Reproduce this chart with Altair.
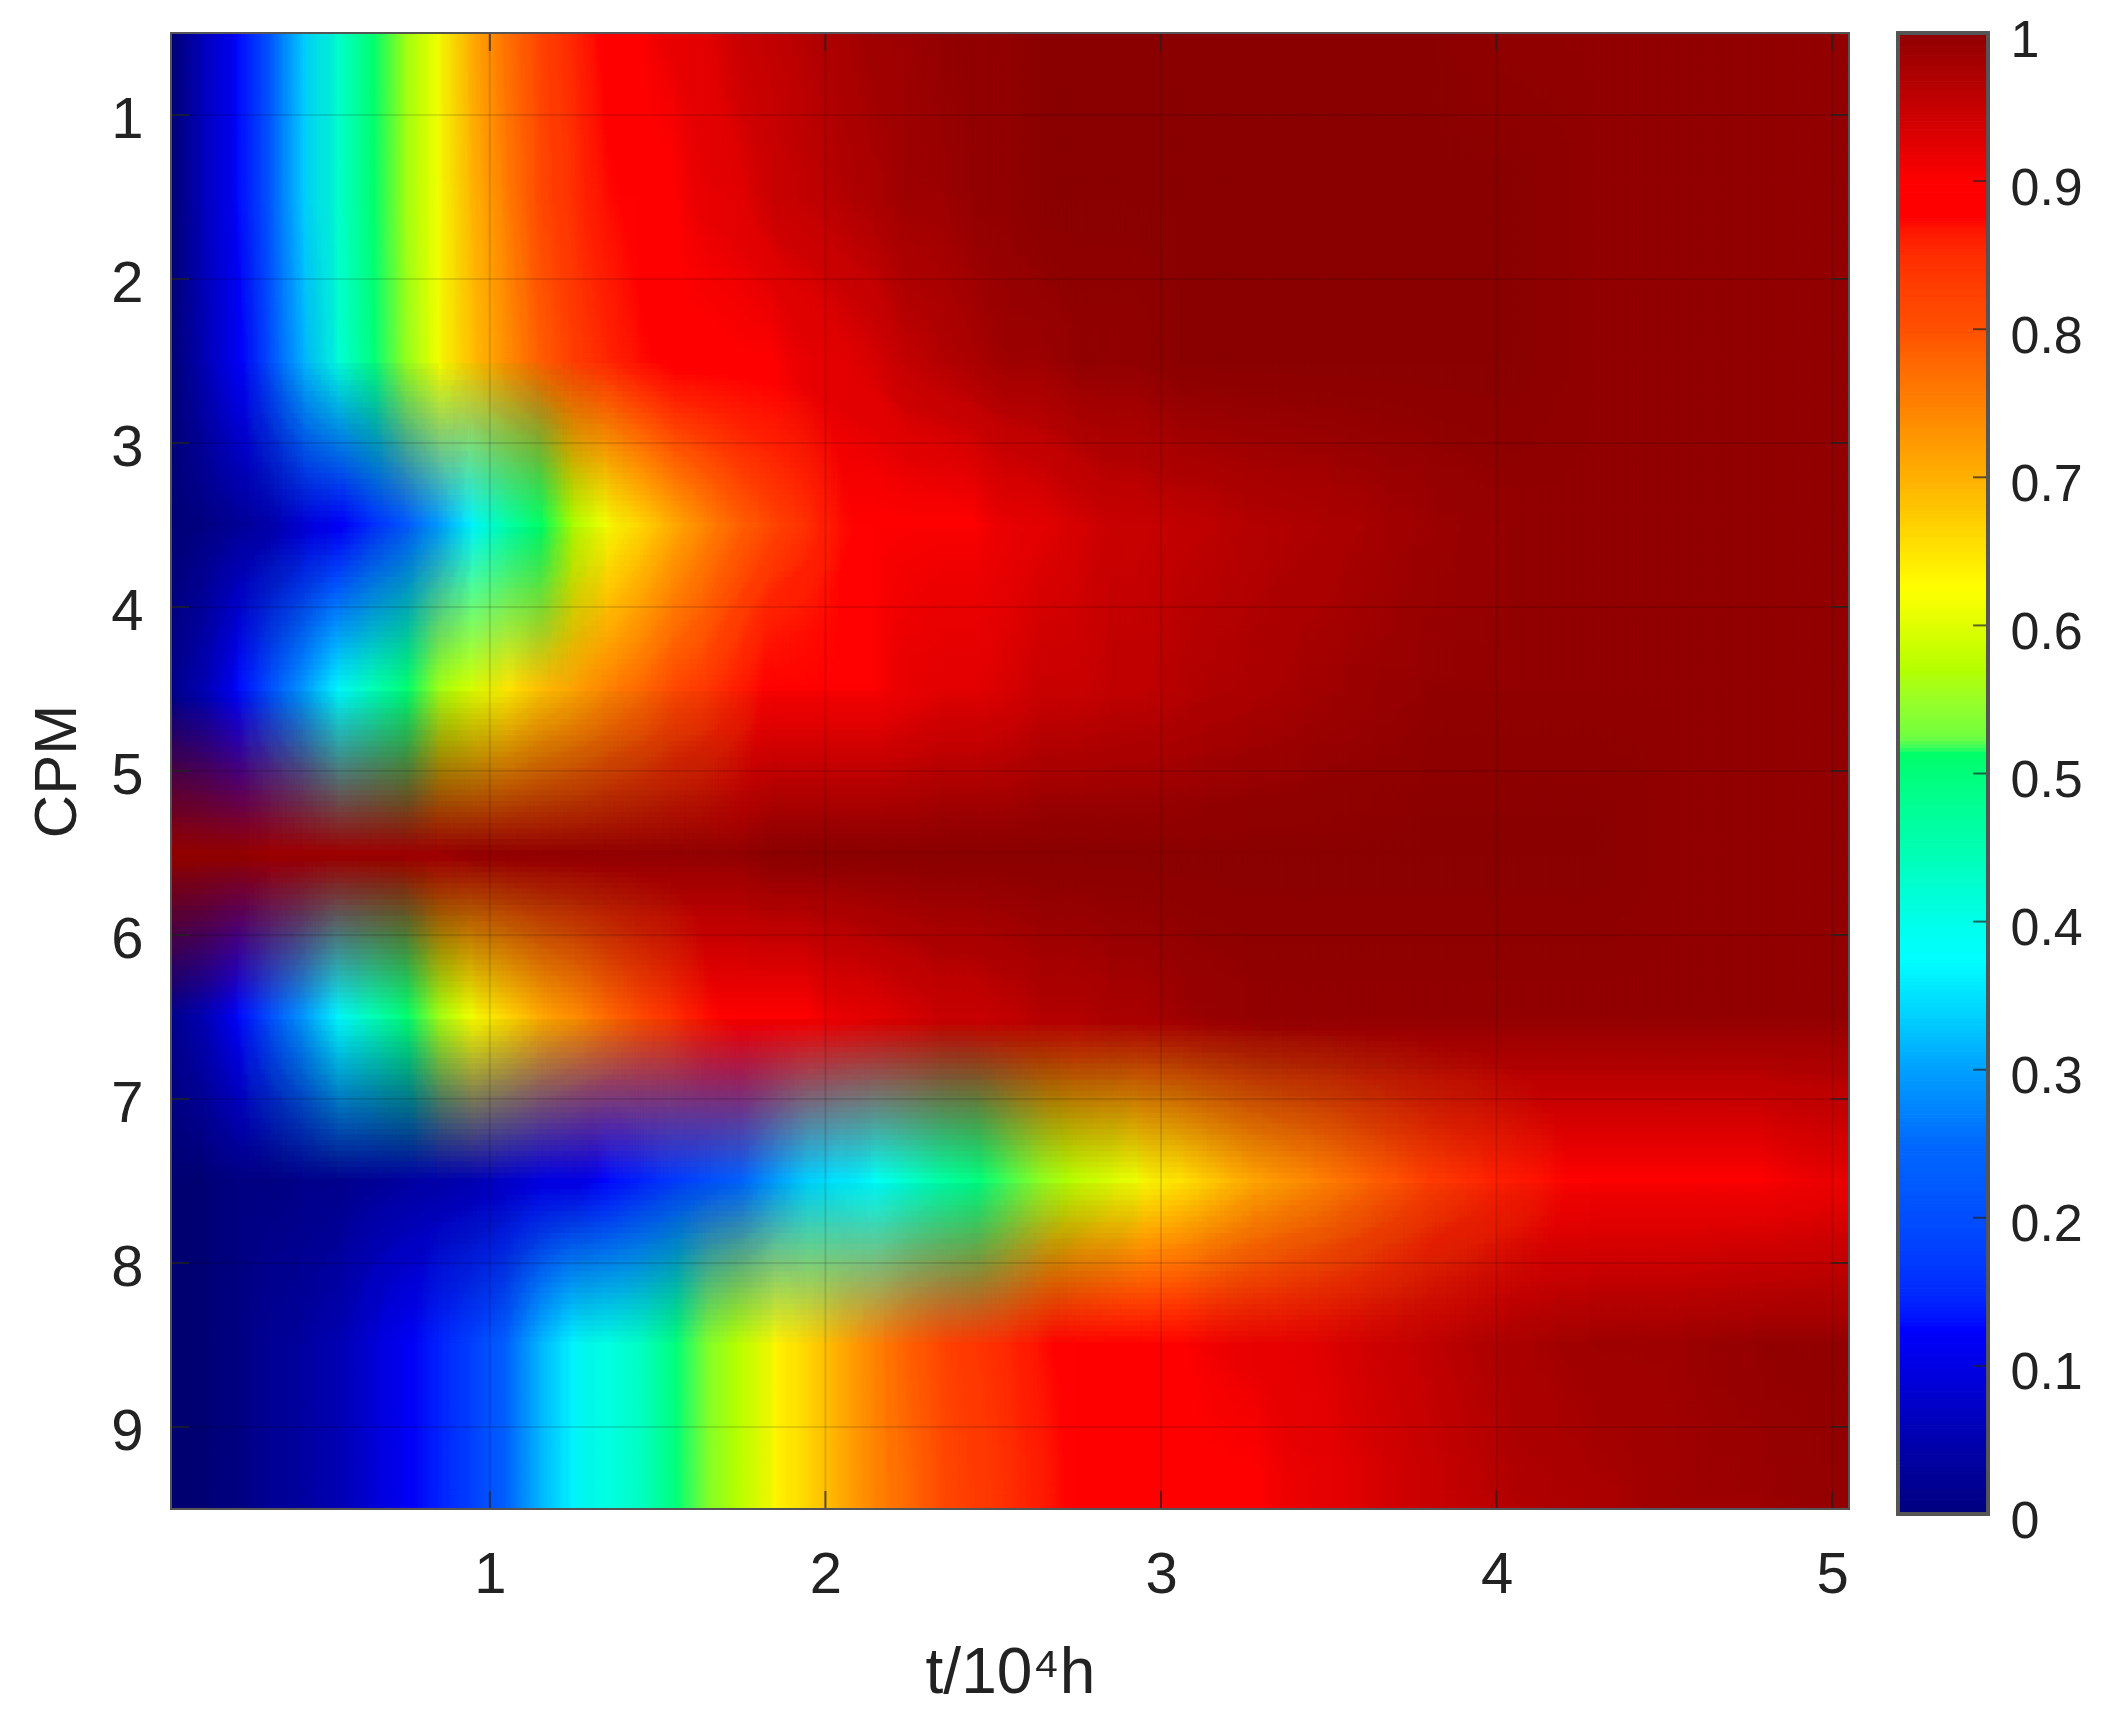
import altair as alt
import pandas as pd

FONT = "Liberation Sans"
W, H = 1678, 1476
BAR_W, BAR_H = 90, 1481
N_LAYERS = 30

# value in percent at each time column, per CPM row
t_nodes = [0.05, 0.15, 0.25, 0.35, 0.45, 0.55, 0.65, 0.75, 0.85, 0.95,
           1.05, 1.15, 1.25, 1.35, 1.45, 1.55, 1.65, 1.75, 1.85, 1.95,
           2.05, 2.15, 2.25, 2.35, 2.45, 2.55, 2.65, 2.75, 2.85, 2.95,
           3.05, 3.30, 3.55, 3.80, 4.05, 4.30, 4.55, 4.80, 5.05]
cpm_nodes = [0.5, 1.5, 2.5, 3.5, 4.5, 5.5, 6.5, 7.5, 8.5, 9.5]

row_05 = [0, 7, 13, 24, 34, 42, 50, 56, 62, 70, 76, 81, 85, 88, 90, 91, 92, 94, 95, 96,
          97, 98, 98, 99, 99, 99, 100, 100, 100, 100, 100, 100, 100, 100, 99, 99, 99, 99, 99]
row_15 = [0, 7, 13, 24, 34, 42, 50, 56, 62, 69, 75, 80, 84, 87, 89, 90, 91, 92, 94, 95,
          96, 97, 98, 98, 99, 99, 100, 100, 100, 100, 100, 100, 100, 100, 100, 99, 99, 99, 99]
row_25 = [0, 6, 12, 22, 32, 41, 49, 55, 62, 68, 73, 78, 82, 85, 87, 88, 88, 89, 90, 91,
          92, 93, 95, 96, 97, 98, 98, 99, 99, 99, 100, 100, 100, 100, 100, 99, 99, 99, 99]
row_35 = [0, 1, 3, 5, 9, 12, 16, 23, 30, 37, 45, 51, 57, 62, 66, 70, 74, 78, 81, 84,
          87, 88, 89, 90, 90, 91, 92, 93, 94, 94, 95, 96, 97, 98, 99, 99, 99, 99, 99]
row_45 = [2, 6, 13, 22, 30, 37, 44, 50, 56, 60, 64, 68, 71, 74, 77, 80, 83, 86, 88, 89,
          90, 90, 91, 92, 92, 93, 94, 94, 95, 95, 96, 97, 98, 99, 99, 99, 99, 99, 99]
row_55 = [99, 99, 99, 98, 98, 98, 98, 98, 98, 99, 99, 99, 99, 99, 99, 99, 99, 99, 100, 100,
          100, 100, 100, 100, 100, 100, 100, 100, 100, 100, 100, 100, 100, 100, 100, 100, 99, 99, 99]
row_65 = [2, 6, 13, 22, 30, 37, 44, 50, 56, 62, 66, 70, 73, 77, 80, 84, 87, 88, 89, 90,
          91, 92, 93, 94, 94, 95, 96, 96, 97, 97, 98, 99, 99, 99, 99, 99, 99, 99, 99]
row_75 = [0, 0, 1, 1, 2, 2, 3, 4, 5, 6, 8, 10, 11, 13, 15, 18, 21, 25, 30, 34,
          36, 38, 42, 46, 49, 52, 55, 58, 60, 62, 65, 71, 76, 82, 86, 88, 89, 90, 91]
row_85 = [0, 0, 1, 3, 4, 6, 9, 12, 15, 19, 25, 32, 37, 40, 43, 49, 54, 58, 63, 66,
          70, 74, 78, 81, 83, 85, 87, 88, 89, 89, 90, 91, 93, 95, 97, 98, 98, 99, 99]
row_95 = [0, 0, 1, 3, 4, 6, 9, 12, 15, 19, 25, 32, 37, 40, 43, 49, 54, 58, 63, 66,
          70, 74, 77, 80, 82, 84, 86, 88, 88, 89, 89, 90, 92, 94, 96, 97, 98, 98, 99]
rows = [row_05, row_15, row_25, row_35, row_45, row_55, row_65, row_75, row_85, row_95]

x_ticks = [1, 2, 3, 4, 5]
y_ticks = [1, 2, 3, 4, 5, 6, 7, 8, 9]
bar_ticks = [0, 0.1, 0.2, 0.3, 0.4, 0.5, 0.6, 0.7, 0.8, 0.9, 1]

# jet-like map with the small jump just above 0.5
cmap_stops = [0, 0.125, 0.25, 0.3, 0.375, 0.45, 0.515, 0.525, 0.57, 0.625, 0.7, 0.75, 0.8, 0.875, 0.9, 1]
cmap_colors = ["#00007f", "#0000ff", "#0068ff", "#00a0ff", "#00ffff", "#00ffb0", "#00ff66", "#70ff40",
               "#b4ff00", "#ffff00", "#ffb000", "#ff8000", "#ff5000", "#ff0000", "#ff0000", "#900000"]
color_scale = alt.Scale(domain=cmap_stops, range=cmap_colors, clamp=True)

x_scale = alt.Scale(domain=[0.05, 5.05], nice=False, zero=False)
y_scale = alt.Scale(domain=[9.5, 0.5], nice=False, zero=False)

x_axis = alt.Axis(values=x_ticks, grid=False, ticks=False, domain=False, labelFont=FONT, labelFontSize=58,
                  labelColor="#222222", labelPadding=37, labelFlush=False, format="d",
                  titleFont=FONT, titleFontSize=64, titleFontWeight="normal", titleColor="#222222", titlePadding=37)
y_axis = alt.Axis(values=y_ticks, grid=False, ticks=False, domain=False, labelFont=FONT, labelFontSize=58,
                  labelColor="#222222", labelPadding=28, labelOffset=5, labelFlush=False, format="d",
                  titleFont=FONT, titleFontSize=60, titleFontWeight="normal", titleColor="#222222", titlePadding=22)
X_TITLE = "t/10⁴h"
Y_TITLE = "CPM"

# cell table: every cell is centred on its column and row
t_edges = [t_nodes[0] - 0.05]
for a, b in zip(t_nodes[:-1], t_nodes[1:]):
    t_edges.append((a + b) / 2)
t_edges.append(t_nodes[-1] + 0.125)
edge_shift = [0.1]
for a, b, c in zip(t_edges[:-2], t_edges[1:-1], t_edges[2:]):
    edge_shift.append((c - a) / 2)
edge_shift.append(0.25)

records = []
for c, row in zip(cpm_nodes, rows):
    for i, v in enumerate(row):
        records.append({"t0": t_edges[i], "t1": t_edges[i + 1], "s0": edge_shift[i], "s1": edge_shift[i + 1],
                        "c0": c - 0.5, "c1": c + 0.5, "v": v / 100})
cells = pd.DataFrame(records)

# the reference is a smoothed image: stack the same cells, slightly shifted,
# with falling opacity so the layers average out
layers = []
for k in range(N_LAYERS):
    dy = (k + 0.5) / N_LAYERS - 0.5
    dx = (k * 0.618) % 1 - 0.5
    kw = {"stroke": alt.Color("v:Q", scale=color_scale, legend=None)} if k == 0 else {}
    layers.append(
        alt.Chart(cells)
        .mark_rect(opacity=1 / (k + 1), clip=True, strokeWidth=1 if k == 0 else 0)
        .transform_calculate(
            xa=f"datum.t0 + ({dx}) * datum.s0",
            xb=f"datum.t1 + ({dx}) * datum.s1",
            ya=f"datum.c0 + ({dy})",
            yb=f"datum.c1 + ({dy})",
        )
        .encode(
            x=alt.X("xa:Q", scale=x_scale, axis=x_axis, title=X_TITLE),
            x2="xb:Q",
            y=alt.Y("ya:Q", scale=y_scale, axis=y_axis, title=Y_TITLE),
            y2="yb:Q",
            color=alt.Color("v:Q", scale=color_scale, legend=None),
            **kw,
        )
    )

xt = pd.DataFrame({"t": x_ticks})
yt = pd.DataFrame({"c": y_ticks})
TICK = 18
tick_color = "#222222"
enc_x = alt.X("t:Q", scale=x_scale, axis=x_axis, title=X_TITLE)
enc_y = alt.Y("c:Q", scale=y_scale, axis=y_axis, title=Y_TITLE)

grid_x = alt.Chart(xt).mark_rule(color="black", opacity=0.12, strokeWidth=2).encode(x=enc_x)
grid_y = alt.Chart(yt).mark_rule(color="black", opacity=0.12, strokeWidth=2).encode(y=enc_y)
tick_top = alt.Chart(xt).mark_rule(color=tick_color, opacity=0.7, strokeWidth=2).encode(
    x=enc_x, y=alt.value(0), y2=alt.value(TICK))
tick_bottom = alt.Chart(xt).mark_rule(color=tick_color, opacity=0.7, strokeWidth=2).encode(
    x=enc_x, y=alt.value(H - TICK), y2=alt.value(H))
tick_left = alt.Chart(yt).mark_rule(color=tick_color, opacity=0.7, strokeWidth=2).encode(
    y=enc_y, x=alt.value(0), x2=alt.value(TICK))
tick_right = alt.Chart(yt).mark_rule(color=tick_color, opacity=0.7, strokeWidth=2).encode(
    y=enc_y, x=alt.value(W - TICK), x2=alt.value(W))
frame = alt.Chart(xt).mark_rect(fillOpacity=0, stroke="#555555", strokeWidth=2).encode(
    x=alt.value(0), x2=alt.value(W), y=alt.value(0), y2=alt.value(H))

heat = alt.layer(
    *layers, grid_x, grid_y, tick_top, tick_bottom, tick_left, tick_right, frame
).properties(width=W, height=H)

# colour bar
bar_lo = [i / 400 for i in range(400)]
bar_df = pd.DataFrame({"lo": bar_lo, "hi": [v + 0.0025 for v in bar_lo], "v": [v + 0.00125 for v in bar_lo]})
bar_scale = alt.Scale(domain=[0, 1], nice=False, zero=False)
bar_axis = alt.Axis(orient="right", values=bar_ticks, format="~g", grid=False, ticks=False, domain=False,
                    labelFont=FONT, labelFontSize=52, labelColor="#222222", labelPadding=22, labelOffset=7,
                    labelFlush=False, labelOverlap=False)
bar = alt.Chart(bar_df).mark_rect(strokeWidth=1).encode(
    y=alt.Y("lo:Q", scale=bar_scale, title=None, axis=bar_axis),
    y2="hi:Q",
    color=alt.Color("v:Q", scale=color_scale, legend=None),
    stroke=alt.Color("v:Q", scale=color_scale, legend=None),
)
bt = pd.DataFrame({"v": bar_ticks[1:-1]})
bar_tick = alt.Chart(bt).mark_rule(color=tick_color, opacity=0.7, strokeWidth=2).encode(
    y=alt.Y("v:Q", scale=bar_scale, title=None, axis=bar_axis), x=alt.value(BAR_W - 15), x2=alt.value(BAR_W))
bar_frame = alt.Chart(bt).mark_rect(fillOpacity=0, stroke="#555555", strokeWidth=3).encode(
    x=alt.value(0), x2=alt.value(BAR_W), y=alt.value(0), y2=alt.value(BAR_H))
colorbar = alt.layer(bar, bar_tick, bar_frame).properties(width=BAR_W, height=BAR_H)

chart = alt.hconcat(heat, colorbar, spacing=46, padding={"left": 19, "top": 6, "right": 10, "bottom": 10}).configure_view(stroke=None)

chart.save("out.html", embed_options={"renderer": "svg", "actions": False})
